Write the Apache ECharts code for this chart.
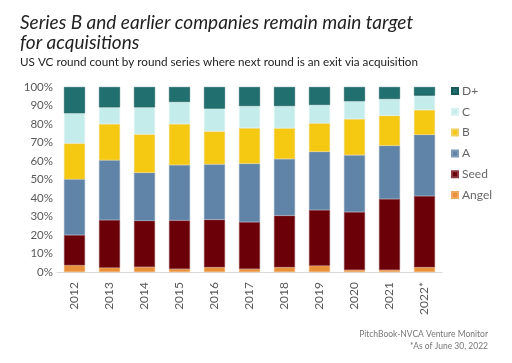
<!DOCTYPE html>
<html><head><meta charset="utf-8">
<script src="https://cdn.jsdelivr.net/npm/echarts@6/dist/echarts.min.js"></script>
<style>html,body{margin:0;padding:0;background:#fff}#c{width:512px;height:363px}</style>
</head><body><div id="c"></div>
<script>
const categories = ['2012','2013','2014','2015','2016','2017','2018','2019','2020','2021','2022*'];
const angel = [3.6,2.3,2.7,1.6,2.5,1.6,2.5,3.4,1.1,1.1,2.5];
const seed  = [16.4,25.8,25.0,26.3,25.8,25.4,28.0,30.1,31.3,38.4,38.6];
const seriesA = [30.1,32.3,26.0,29.9,29.9,31.6,30.6,31.5,30.8,28.8,33.1];
const seriesB = [19.4,19.6,20.7,22.2,17.8,19.2,16.6,15.4,19.5,16.2,13.4];
const seriesC = [16.3,9.0,14.6,11.9,12.3,11.9,12.0,9.9,9.6,9.0,7.7];
const seriesD = [14.2,11.0,11.0,8.1,11.7,10.3,10.3,9.7,7.7,6.5,4.7];
const yTicks = [0,10,20,30,40,50,60,70,80,90,100];

const font = 'Lato, "Open Sans", sans-serif';
const chart = echarts.init(document.getElementById('c'), null, {renderer:'canvas'});
function s(name, data, color, border){
  return {name, type:'bar', stack:'t', data, barWidth:21,
    itemStyle:{color, borderColor:border, borderWidth:0.6}};
}
chart.setOption({
  animation:false,
  title:[
    {text:'Series B and earlier companies remain main target\nfor acquisitions', left:20, top:13, padding:0,
     textStyle:{fontFamily:font, fontStyle:'italic', fontWeight:'normal', fontSize:19, lineHeight:20, color:'#222'}},
    {text:'US VC round count by round series where next round is an exit via acquisition', left:20, top:56, padding:0,
     textStyle:{fontFamily:font, fontWeight:'normal', fontSize:11.7, color:'#222'}},
    {text:'PitchBook-NVCA Venture Monitor', right:24, top:330, padding:0,
     textStyle:{fontFamily:font, fontWeight:'normal', fontSize:8.5, color:'#777'}},
    {text:'*As of June 30, 2022', right:24, top:342, padding:0,
     textStyle:{fontFamily:font, fontWeight:'normal', fontSize:8.5, color:'#777'}}
  ],
  legend:{orient:'vertical', left:446, top:80, itemWidth:6, itemHeight:6, itemGap:8.8,
    icon:'rect', data:['D+','C','B','A','Seed','Angel'],
    textStyle:{fontFamily:font, fontSize:12, color:'#666', padding:[0,0,0,-1]}},
  grid:{left:57, top:87, width:385, height:185},
  xAxis:{type:'category', data:categories,
    axisLine:{lineStyle:{color:'#d9d9d9'}}, axisTick:{show:false},
    axisLabel:{rotate:90, fontFamily:font, fontSize:12, color:'#595959', margin:10}},
  yAxis:{type:'value', min:0, max:100, interval:10,
    axisLine:{show:false}, axisTick:{show:false}, splitLine:{show:false},
    axisLabel:{fontFamily:font, fontSize:11.5, color:'#595959', margin:4,
      formatter:v=> yTicks.includes(v) ? v+'%' : ''}},
  series:[
    s('Angel', angel, '#e9913a', '#f0a860'),
    s('Seed', seed, '#6c0009', '#8a3a40'),
    s('A', seriesA, '#5f84a8', '#7f9ab5'),
    s('B', seriesB, '#f5c812', '#f0d060'),
    s('C', seriesC, '#c4ecea', '#d8f2f0'),
    s('D+', seriesD, '#21706f', '#1a5a5a')
  ]
});
</script></body></html>
